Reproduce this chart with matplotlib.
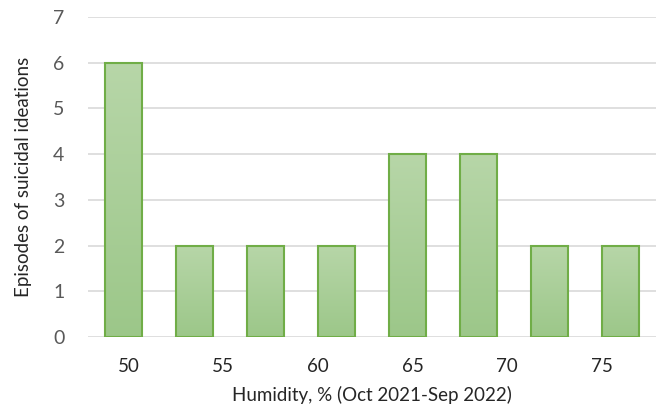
import numpy as np
import matplotlib
matplotlib.use("Agg")
from matplotlib import pyplot as plt
from matplotlib.colors import LinearSegmentedColormap

# data
episodes = [6, 2, 2, 2, 4, 4, 2, 2]
tick_labels = ["50", "55", "60", "65", "70", "75"]
x_title = "Humidity, % (Oct 2021-Sep 2022)"
y_title = "Episodes of suicidal ideations"

plt.rcParams['font.family'] = ['Lato', 'DejaVu Sans']

fig = plt.figure(figsize=(6.57, 4.08), dpi=100)
ax = fig.add_axes([88/657, 71/408, 568/657, 320/408])

x = np.arange(len(episodes))
bars = ax.bar(x, episodes, width=0.52, facecolor='none', edgecolor='#70ad47',
              linewidth=1.5, zorder=3)

# light gradient fill like the original
cmap = LinearSegmentedColormap.from_list('g', ['#9cc789', '#b7d6a8'])
grad = np.linspace(0, 1, 256).reshape(-1, 1)
for b in bars:
    x0, w, h = b.get_x(), b.get_width(), b.get_height()
    im = ax.imshow(grad, cmap=cmap, aspect='auto', origin='lower',
                   extent=[x0, x0 + w, 0, h], zorder=2)
    im.set_clip_path(b)

ax.set_xlim(-0.5, len(episodes) - 0.5)
ax.set_ylim(0, 7)
ax.set_yticks(range(0, 8))
ax.yaxis.grid(True, color='#d9d9d9', linewidth=1.2, zorder=0)
ax.set_axisbelow(True)

# the x labels are spread evenly over the plot area, not one per bar
n = len(tick_labels)
pos = -0.5 + (np.arange(n) + 0.43) * len(episodes) / n
ax.set_xticks(pos)
ax.set_xticklabels(tick_labels, fontsize=13.5, color='#262626')

for s in ax.spines.values():
    s.set_visible(False)
ax.tick_params(axis='both', length=0)
ax.tick_params(axis='y', labelsize=14, labelcolor='#595959', pad=17)
ax.tick_params(axis='x', pad=15)

ax.set_xlabel(x_title, fontsize=13.5, color='#262626', labelpad=8)
ax.set_ylabel(y_title, fontsize=13.5, color='#262626', labelpad=15)

fig.savefig("out.png", dpi=100)
